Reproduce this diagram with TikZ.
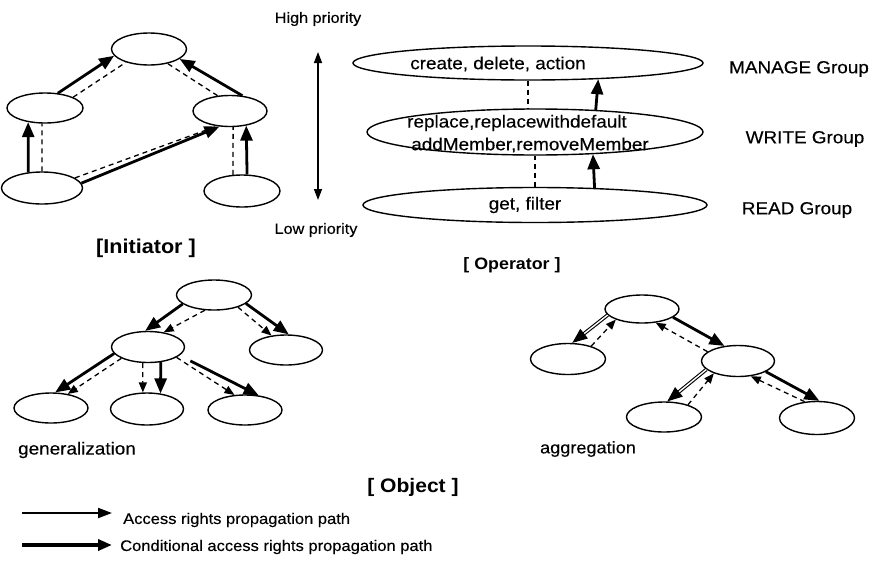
\documentclass[tikz,border=0pt]{standalone}
\usepackage{fontspec}
\setmainfont{Liberation Sans}[FakeStretch=1.08, UprightFeatures={FakeBold=0.3}]
\usetikzlibrary{shapes.geometric,arrows.meta}
\begin{document}
\begin{tikzpicture}[x=1pt,y=-1pt,
  ell/.style={draw, ellipse, line width=1.4pt, inner sep=0pt},
  sm/.style={ell, minimum width=75pt, minimum height=31pt},
  solidarr/.style={line width=2.8pt, -{Triangle[length=15pt,width=12pt]}},
  dasharr/.style={line width=1.3pt, dash pattern=on 5pt off 4pt, -{Triangle[length=10pt,width=8pt]}},
  dashln/.style={line width=1.3pt, dash pattern=on 5pt off 4pt},
  dblarr/.style={line width=1.1pt, double, double distance=1.4pt, -{Triangle[length=15pt,width=12pt]}},
  lbl/.style={inner sep=0pt, font=\fontsize{17.5}{20}\selectfont},
  ttl/.style={inner sep=0pt, font=\bfseries}
]
\useasboundingbox (0,0) rectangle (872,560);

% ---------- Initiator ----------
\node[sm, minimum width=75pt, minimum height=32pt] (it)  at (149,49)  {};
\node[sm, minimum width=76pt, minimum height=30pt] (il)  at (45,108)  {};
\node[sm, minimum width=74pt, minimum height=31pt] (ir)  at (230,111) {};
\node[sm, minimum width=81pt, minimum height=32pt] (ibl) at (42,188)  {};
\node[sm, minimum width=76pt, minimum height=32pt] (ibr) at (242,191) {};

\draw[solidarr] (il.49) -- (it.191);
\draw[dashln]   (il.21) -- (it.210);
\draw[solidarr] (ir.51) -- (it.-18);
\draw[dashln]   (ir.129) -- (it.-38);
\draw[solidarr] (ibl.131) -- (il.220);
\draw[dashln]   (ibl.90) -- (il.259);
\draw[solidarr] (ibl.7) -- (ir.236);
\draw[dashln]   (ibl.17) -- (ir.229);
\draw[solidarr] (ibr.73) -- (ir.-42);
\draw[dashln]   (ibr.119) -- (ir.-79);

\node[ttl, font=\fontsize{20}{22}\bfseries\selectfont] (tinit) at (146,248) {[Initiator ]};

% ---------- Priority scale ----------
\coordinate (hi) at (318,52);
\coordinate (lo) at (318,200);
\draw[line width=1.4pt, {Triangle[length=11pt,width=8pt]}-{Triangle[length=11pt,width=8pt]}] (hi) -- (lo);
\node[inner sep=0pt, font=\fontsize{15}{17}\selectfont] (thi) at (318,19) {High priority};
\node[inner sep=0pt, font=\fontsize{15}{17}\selectfont] (tlo) at (316,230) {Low priority};

% ---------- Operator ----------
\node[ell, minimum width=350pt, minimum height=34pt] (ot) at (528,63)  {};
\node[ell, minimum width=336pt, minimum height=46pt] (om) at (535,132) {};
\node[ell, minimum width=344pt, minimum height=35pt] (ob) at (535,205) {};

\node[lbl] (tot)  at (498,64)  {create, delete, action};
\node[lbl] (tom1) at (517,123) {replace,replacewithdefault};
\node[lbl] (tom2) at (530,145) {addMember,removeMember};
\node[lbl] (tob)  at (525,205) {get, filter};

\draw[dashln]   (ot.south) -- (ot.south |- om.north);
\draw[solidarr] (om.20.8) -- (ot.-13.9);
\draw[dashln]   (ob.north) -- (ob.north |- om.south);
\draw[solidarr] (ob.16.4) -- (om.-21.2);

\node[lbl] (gman) at (799,69)  {MANAGE Group};
\node[lbl] (gwri) at (805,139) {WRITE Group};
\node[lbl] (grea) at (797,210) {READ Group};

\node[ttl, font=\fontsize{16.5}{19}\bfseries\selectfont] (top) at (512,265) {[ Operator ]};

% ---------- Object: generalization ----------
\node[sm, minimum width=75pt, minimum height=30pt] (gt)  at (214,295) {};
\node[sm, minimum width=73pt, minimum height=31pt] (gm)  at (148,347) {};
\node[sm, minimum width=73pt, minimum height=30pt] (gr)  at (286,350) {};
\node[sm, minimum width=74pt, minimum height=30pt] (gbl) at (51,408)  {};
\node[sm, minimum width=73pt, minimum height=32pt] (gbm) at (147,409) {};
\node[sm, minimum width=74pt, minimum height=30pt] (gbr) at (245,410) {};

\draw[solidarr] (gt.196) -- (gm.100);
\draw[dasharr]  (gt.239) -- (gm.43);
\draw[solidarr] (gt.-15) -- (gr.80);
\draw[dasharr]  (gt.-27) -- (gr.135);
\draw[solidarr] (gm.191) -- (gbl.75);
\draw[dasharr]  (gm.203) -- (gbl.40);
\draw[solidarr] (gm.-50.6) -- (gbm.49);
\draw[dasharr]  (gm.-108) -- (gbm.104);
\draw[solidarr, shorten <=12pt] (gm.-15) -- (gbr.47);
\draw[dasharr]  (gm.-20) -- (gbr.125);

\node[inner sep=0pt, font=\fontsize{17.5}{20}\selectfont] (tgen) at (77,450) {generalization};

% ---------- Object: aggregation ----------
\node[sm, minimum width=74pt, minimum height=28pt] (at)  at (642,309) {};
\node[sm, minimum width=75pt, minimum height=31pt] (al)  at (568,359) {};
\node[sm, minimum width=73pt, minimum height=31pt] (am)  at (738,361) {};
\node[sm, minimum width=75pt, minimum height=30pt] (abm) at (664,417) {};
\node[sm, minimum width=75pt, minimum height=33pt] (abr) at (817,418) {};

\draw[dblarr]   (at.190) -- (al.75);
\draw[dasharr]  (al.29.7) -- (at.202);
\draw[solidarr] (at.-15) -- (am.132);
\draw[dasharr]  (am.163.6) -- (at.-45);
\draw[dblarr]   (am.195) -- (abm.78);
\draw[dasharr]  (abm.27) -- (am.207.5);
\draw[solidarr] (am.-21) -- (abr.82);
\draw[dasharr]  (abr.127.6) -- (am.-50.6);

\node[inner sep=0pt, font=\fontsize{16.8}{19}\selectfont] (tagg) at (588,449) {aggregation};

\node[ttl, font=\fontsize{19.5}{22}\bfseries\selectfont] (tobj) at (413,487) {[ Object ]};

% ---------- Legend ----------
\coordinate (la1) at (22,513);
\coordinate (la2) at (112,513);
\coordinate (lb1) at (22,545);
\coordinate (lb2) at (112,545);
\draw[line width=2pt, -{Triangle[length=14pt,width=10pt]}] (la1) -- (la2);
\draw[line width=4pt, -{Triangle[length=14pt,width=11pt]}] (lb1) -- (lb2);
\node[anchor=west, inner sep=0pt, font=\fontsize{15.3}{17}\selectfont] (tla) at (123,520) {Access rights propagation path};
\node[anchor=west, inner sep=0pt, font=\fontsize{15.3}{17}\selectfont] (tlb) at (120,547) {Conditional access rights propagation path};
\end{tikzpicture}
\end{document}
